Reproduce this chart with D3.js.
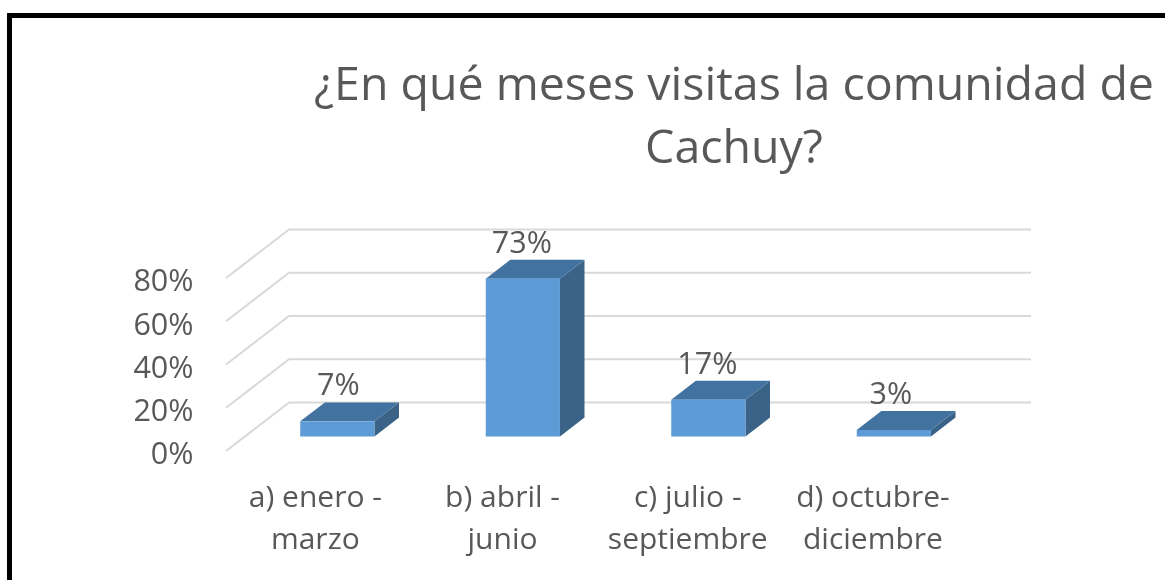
<!DOCTYPE html>
<html><head><meta charset="utf-8">
<script src="https://cdnjs.cloudflare.com/ajax/libs/d3/7.8.5/d3.min.js"></script>
<style>html,body{margin:0;padding:0;background:#fff}svg{display:block}text{font-family:"Open Sans",sans-serif;fill:#595959}</style>
</head><body><svg id="c" width="1165" height="580"></svg>
<script>
const categories=[["a) enero -","marzo"],["b) abril -","junio"],["c) julio -","septiembre"],["d) octubre-","diciembre"]];
const values=[7,73,17,3];
const valueLabels=["7%","73%","17%","3%"];
const yTicks=[0,20,40,60,80];
const titleLines=["¿En qué meses visitas la comunidad de","Cachuy?"];

const svg=d3.select("#c");
const defs=svg.append("defs");
defs.append("filter").attr("id","soft").append("feGaussianBlur").attr("stdDeviation",0.5);
const root=svg.append("g").attr("filter","url(#soft)");
root.append("path").attr("d","M9.5,580V15.5H1165").attr("fill","none").attr("stroke","#000").attr("stroke-width",5);

const y=d3.scaleLinear().domain([0,80]).range([451,278]);
const x=d3.scaleBand().domain(d3.range(4)).range([244.6,986.6]).paddingInner(0.6).paddingOuter(0.3);
const dBack={x:63,y:-48.5}, barFront=0.299, barDepth=0.39;
const shift=f=>[dBack.x*f,dBack.y*f];

root.append("g").selectAll("text").data(titleLines).join("text")
 .attr("x",734).attr("y",(d,i)=>100+i*63).attr("text-anchor","middle").attr("font-size",46.5).text(d=>d);

const grid=root.append("g").attr("fill","none").attr("stroke","#d9d9d9").attr("stroke-width",2);
yTicks.forEach(t=>{
  grid.append("path").attr("d",`M226,${y(t)}L${226+dBack.x},${y(t)+dBack.y}H1031`);
});

const axis=d3.axisLeft(y).tickValues(yTicks).tickSize(0).tickPadding(0).tickFormat(d=>d+"%");
const ag=root.append("g").attr("transform","translate(193.5,3)").call(axis);
ag.select(".domain").remove();
ag.selectAll("text").attr("font-size",30.5).attr("font-family",'"Open Sans",sans-serif').attr("fill","#595959");

const [fx,fy]=shift(barFront), [ddx,ddy]=shift(barDepth);
const base=y(0)+fy;
const h=d=>y(0)-y(d);
const bars=root.append("g").selectAll("g").data(values).join("g");
const bx=(i)=>x(i);
const w=x.bandwidth();
bars.append("path").attr("fill","#3a6488").attr("d",(d,i)=>{const X=bx(i)+w,t=base-h(d);return `M${X},${base}V${t}l${ddx},${ddy}V${base+ddy}Z`;});
bars.append("path").attr("fill","#4273a0").attr("d",(d,i)=>{const X=bx(i),t=base-h(d);return `M${X},${t}h${w}l${ddx},${ddy}h${-w}Z`;});
bars.append("rect").attr("fill","#5b9bd5").attr("x",(d,i)=>bx(i)).attr("width",w).attr("y",d=>base-h(d)).attr("height",d=>h(d));

bars.append("text").attr("x",(d,i)=>bx(i)+w/2+[1,-1,-1,-3][i]).attr("y",d=>base-h(d)-26).attr("text-anchor","middle").attr("font-size",30.5).text((d,i)=>valueLabels[i]);

const cg=root.append("g").selectAll("g").data(categories).join("g");
cg.selectAll("text").data((d,i)=>d.map(s=>({s,i}))).join("text")
 .attr("x",d=>x(d.i)+w/2-21+[-1,1,1,1][d.i]-d.i*0.3).attr("y",(d,j)=>507+j*42).attr("text-anchor","middle").attr("font-size",30).text(d=>d.s);
</script></body></html>
